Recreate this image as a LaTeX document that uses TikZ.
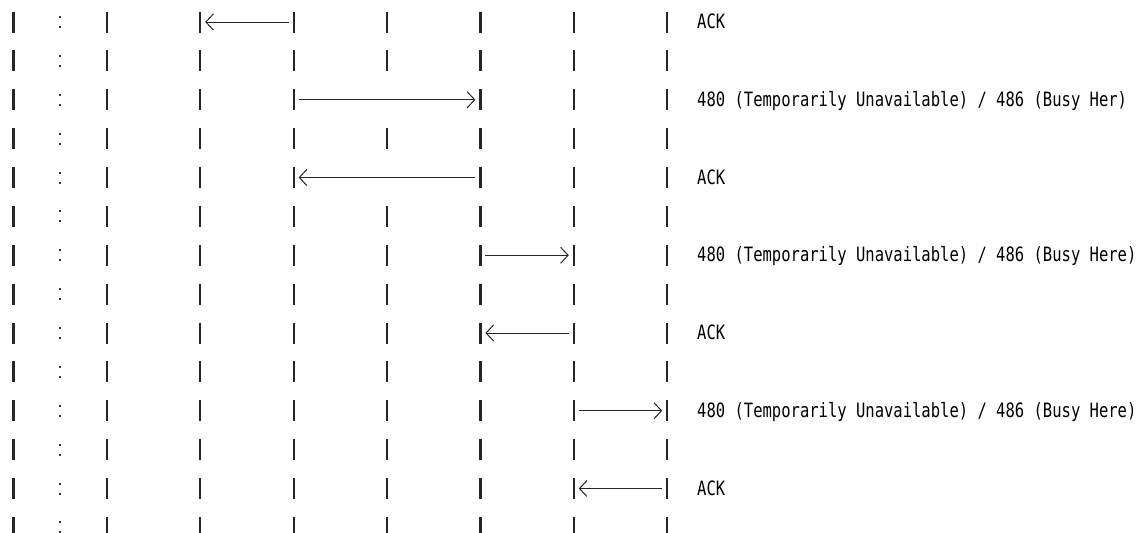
\documentclass[tikz,border=0pt]{standalone}
\usepackage{fontspec}
\usetikzlibrary{arrows.meta}
\newfontfamily\lblfont[FakeStretch=0.786]{DejaVu Sans Mono}
\tikzset{
  bar/.style={line width=2.2pt, draw=black!85},
  dotmark/.style={fill=black!80},
  msg/.style={line width=1pt, draw=black!85, shorten <=5pt, shorten >=5pt,
    -{Straight Barb[length=7.5pt,width=16pt,line width=1pt]}},
  lbl/.style={anchor=base west, inner sep=0pt,
    font=\lblfont\fontsize{19.75}{20}\selectfont, text=black},
}
\begin{document}
\begin{tikzpicture}[x=1pt,y=-1pt]
\useasboundingbox (0,0) rectangle (1136,533);
\foreach \i in {0,...,13}{
  \foreach \k in {0,...,7}{
    \coordinate (L\k-\i) at ({13.4+93.4*\k},{22+38.875*\i});
    \pgfmathtruncatemacro\showbar{(\k==4 && (\i==2 || \i==4)) ? 0 : 1}
    \ifnum\showbar=1
      \draw[bar] ([yshift=10.5pt]L\k-\i) -- ([yshift=-10.5pt]L\k-\i);
    \fi
  }
  \fill[dotmark] (59,{22+38.875*\i-6}) rectangle +(2,2);
  \fill[dotmark] (59,{22+38.875*\i+4}) rectangle +(2,2);
}
% messages
\draw[msg] (L3-0) -- (L2-0);
\draw[msg] (L3-2) -- (L5-2);
\draw[msg] (L5-4) -- (L3-4);
\draw[msg] (L5-6) -- (L6-6);
\draw[msg] (L6-8) -- (L5-8);
\draw[msg] (L6-10) -- (L7-10);
\draw[msg] (L7-12) -- (L6-12);
% labels
\node[lbl] (t0) at (697,{22+38.875*0+6.5}) {ACK};
\node[lbl] (t2) at (697,{22+38.875*2+6.5}) {480 (Temporarily Unavailable) / 486 (Busy Her)};
\node[lbl] (t4) at (697,{22+38.875*4+6.5}) {ACK};
\node[lbl] (t6) at (697,{22+38.875*6+6.5}) {480 (Temporarily Unavailable) / 486 (Busy Here)};
\node[lbl] (t8) at (697,{22+38.875*8+6.5}) {ACK};
\node[lbl] (t10) at (697,{22+38.875*10+6.5}) {480 (Temporarily Unavailable) / 486 (Busy Here)};
\node[lbl] (t12) at (697,{22+38.875*12+6.5}) {ACK};
\end{tikzpicture}
\end{document}
